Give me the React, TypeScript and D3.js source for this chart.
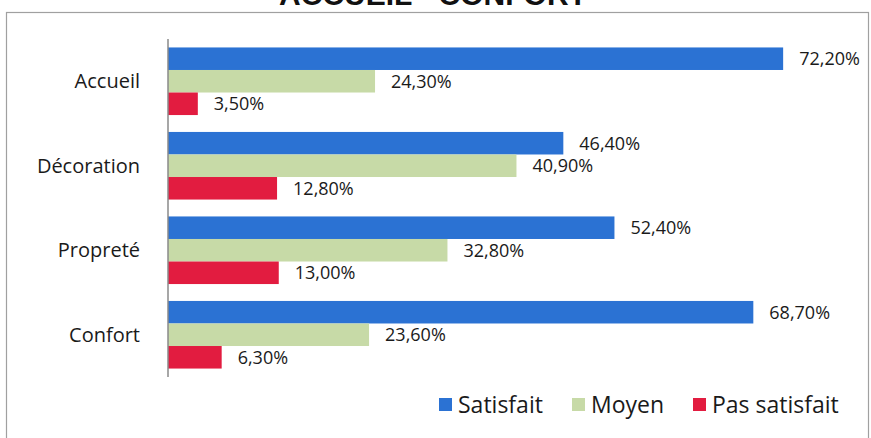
import { useEffect, useRef } from 'react'
import * as d3 from 'd3'

const categories = ['Accueil', 'Décoration', 'Propreté', 'Confort']
const seriesNames = ['Satisfait', 'Moyen', 'Pas satisfait']
const satisfait = [72.2, 46.4, 52.4, 68.7]
const moyen = [24.3, 40.9, 32.8, 23.6]
const pasSatisfait = [3.5, 12.8, 13.0, 6.3]
const colors = ['#2b72d3', '#c7daa7', '#e21c40']

const fmt = (v: number) => v.toFixed(2).replace('.', ',') + '%'

export default function App() {
  const svgRef = useRef<SVGSVGElement | null>(null)

  useEffect(() => {
    if (!svgRef.current) return
    const width = 871
    const height = 438
    const font = '"Open Sans", sans-serif'

    const svg = d3.select(svgRef.current)
    svg.selectAll('*').remove()
    svg.attr('width', width).attr('height', height).style('background', '#fff')

    // frame (bottom goes past the page)
    svg
      .append('rect')
      .attr('x', 6.5)
      .attr('y', 12.5)
      .attr('width', 862)
      .attr('height', 440)
      .attr('fill', 'none')
      .attr('stroke', '#a0a0a0')
      .attr('stroke-width', 1.2)

    // title, cut at the top
    svg
      .append('text')
      .attr('x', 433)
      .attr('y', 5)
      .attr('text-anchor', 'middle')
      .style('font-family', '"Liberation Sans", Arial, sans-serif')
      .style('font-weight', 'bold')
      .style('font-size', '30px')
      .style('fill', '#111')
      .text('ACCUEIL - CONFORT')

    const x = d3.scaleLinear().domain([0, 100]).range([168, 168 + 852])
    const y = d3
      .scaleBand()
      .domain(categories)
      .range([39, 377])
      .paddingInner(0.2)
      .paddingOuter(0.1)
    const sub = d3
      .scaleBand()
      .domain(seriesNames)
      .range([0, y.bandwidth()])

    const series = [satisfait, moyen, pasSatisfait]

    const groups = svg
      .selectAll('.grp')
      .data(categories)
      .enter()
      .append('g')
      .attr('class', 'grp')
      .attr('transform', d => `translate(0, ${y(d)})`)

    seriesNames.forEach((name, si) => {
      groups
        .append('rect')
        .attr('x', x(0))
        .attr('y', sub(name)!)
        .attr('width', (_d, i) => x(series[si][i]) - x(0))
        .attr('height', sub.bandwidth())
        .attr('fill', colors[si])

      groups
        .append('text')
        .attr('x', (_d, i) => x(series[si][i]) + 16)
        .attr('y', sub(name)! + sub.bandwidth() / 2)
        .attr('dy', '0.35em')
        .style('font-family', font)
        .style('font-size', '18px')
        .style('fill', '#1a1a1a')
        .text((_d, i) => fmt(series[si][i]))
    })

    // category axis
    svg
      .append('line')
      .attr('x1', 168)
      .attr('x2', 168)
      .attr('y1', 39)
      .attr('y2', 377)
      .attr('stroke', '#8a8a8a')
      .attr('stroke-width', 1.5)

    svg
      .selectAll('.cat')
      .data(categories)
      .enter()
      .append('text')
      .attr('class', 'cat')
      .attr('x', 140)
      .attr('y', d => y(d)! + y.bandwidth() / 2)
      .attr('dy', '0.35em')
      .attr('text-anchor', 'end')
      .style('font-family', font)
      .style('font-size', '20px')
      .style('fill', '#1a1a1a')
      .text(d => d)

    // legend
    const legendX = [439, 572, 693]
    seriesNames.forEach((name, i) => {
      const item = svg.append('g').attr('transform', `translate(${legendX[i]}, 398)`)
      item.append('rect').attr('width', 13).attr('height', 13).attr('fill', colors[i])
      item
        .append('text')
        .attr('x', 19)
        .attr('y', 7)
        .attr('dy', '0.35em')
        .style('font-family', font)
        .style('font-size', '23px')
        .style('fill', '#1a1a1a')
        .text(name)
    })
  }, [])

  return (
    <div style={{ position: 'absolute', left: 0, top: 0 }}>
      <svg ref={svgRef} style={{ display: 'block' }}></svg>
    </div>
  )
}
